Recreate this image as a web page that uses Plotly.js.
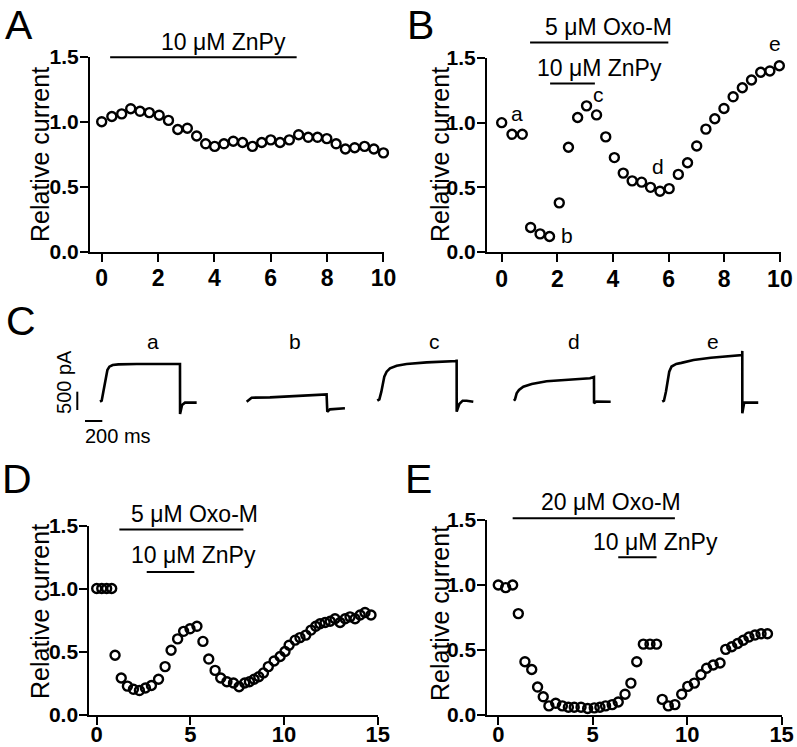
<!DOCTYPE html>
<html><head><meta charset="utf-8">
<script src="https://cdn.plot.ly/plotly-3.0.1.min.js"></script>
<style>html,body{margin:0;padding:0;background:#fff}#chart{width:797px;height:747px}</style>
</head><body><div id="chart"></div>
<script>
// ---------- Panel A : ZnPy alone ----------
const aTime = [0,0.36,0.71,1.03,1.36,1.69,2.04,2.37,2.70,3.04,3.37,3.69,4.01,4.34,4.67,5.0,5.35,5.68,6.0,6.33,6.66,6.99,7.33,7.66,7.99,8.32,8.65,8.98,9.33,9.66,10.0];
const aCurrent = [1.0,1.04,1.06,1.10,1.08,1.07,1.05,1.01,0.94,0.95,0.89,0.83,0.81,0.83,0.85,0.84,0.81,0.84,0.86,0.84,0.86,0.90,0.88,0.88,0.87,0.83,0.79,0.80,0.81,0.79,0.76];
const aBars = [{label:'10 μM ZnPy', start:0.30, end:6.92, level:1.495, textX:4.32, textY:1.615}];

// ---------- Panel B : 5 uM Oxo-M + ZnPy ----------
const bTime = [0,0.37,0.74,1.04,1.38,1.72,2.07,2.40,2.73,3.05,3.41,3.74,4.05,4.37,4.69,5.03,5.35,5.69,6.02,6.35,6.68,7.01,7.34,7.66,7.99,8.32,8.65,8.98,9.31,9.64,9.98];
const bCurrent = [1.00,0.91,0.91,0.19,0.14,0.12,0.38,0.81,1.04,1.13,1.06,0.89,0.73,0.61,0.55,0.54,0.50,0.47,0.49,0.60,0.69,0.82,0.95,1.03,1.11,1.20,1.27,1.33,1.39,1.40,1.44];
const bPointLabels = ['a','b','c','d','e'];
const bPointLabelX = [0.54,2.36,3.47,5.63,9.82];
const bPointLabelY = [1.07,0.13,1.22,0.66,1.61];
const bBars = [{label:'5 μM Oxo-M', start:1.02, end:5.99, level:1.62, textX:3.83, textY:1.736},
               {label:'10 μM ZnPy', start:1.74, end:3.35, level:1.303, textX:3.50, textY:1.425}];

// ---------- Panel C : current traces (ms, pA) ----------
const sweepNames = ['a','b','c','d','e'];
const sweepOffset = [482, 2177, 3680, 5260, 6974];
const sweepTime = [
  [-20,0,19,38,50,66,89,127,193,405,905,906,929,963,1098],
  [-19,0,38,250,636,905,913,944,1117],
  [-12,12,35,50,69,96,135,212,327,559,905,905.5,906,936,975,1021,1098],
  [-12,0,19,46,96,193,366,674,867,913,914,940,1106],
  [-12,8,31,50,69,96,150,210,350,550,750,913,913.5,914,935,960,1098]
];
const sweepCurrent = [
  [0,27,273,500,729,866,956,1002,1018,1029,1029,-336,-91,-27,-27],
  [0,46,109,118,155,200,-273,-209,-181],
  [27,64,273,500,683,819,910,983,1029,1073,1111,1150,-273,-64,27,27,0],
  [27,64,229,319,410,483,557,612,639,674,-44,5,0],
  [0,27,273,592,819,960,1030,1060,1140,1200,1245,1270,1387,-317,-27,-27,-27]
];
const sweepLabelTime = [1075, 2720, 4335, 5942, 7549];
const sweepLabelCurrent = 1630;
const scaleBarCurrent = 500;   // pA
const scaleBarTime = 200;      // ms

// ---------- Panel D : 5 uM Oxo-M + ZnPy ----------
const dTime = [0,0.27,0.53,0.80,0.98,1.31,1.64,1.96,2.28,2.60,2.92,3.30,3.65,3.97,4.32,4.64,4.98,5.35,5.67,5.98,6.32,6.62,6.95,7.30,7.60,7.90,8.15,8.40,8.65,8.90,9.16,9.47,9.79,10.05,10.27,10.59,10.85,11.16,11.44,11.69,11.92,12.19,12.46,12.72,12.99,13.26,13.52,13.79,14.06,14.32,14.64];
const dCurrent = [1.0,1.0,1.0,1.0,0.47,0.29,0.225,0.20,0.19,0.21,0.23,0.28,0.38,0.51,0.60,0.66,0.68,0.70,0.58,0.44,0.35,0.29,0.26,0.25,0.22,0.25,0.26,0.28,0.30,0.33,0.38,0.425,0.46,0.50,0.55,0.59,0.61,0.63,0.67,0.70,0.72,0.73,0.74,0.76,0.73,0.76,0.775,0.76,0.79,0.81,0.79];
const dBars = [{label:'5 μM Oxo-M', start:1.21, end:7.83, level:1.469, textX:5.2, textY:1.593},
               {label:'10 μM ZnPy', start:2.67, end:5.21, level:1.131, textX:5.16, textY:1.263}];

// ---------- Panel E : 20 uM Oxo-M + ZnPy ----------
const eTime = [0,0.39,0.76,1.06,1.41,1.77,2.08,2.38,2.68,3.04,3.39,3.71,4.02,4.38,4.73,5.08,5.38,5.68,6.03,6.35,6.71,7.02,7.33,7.68,8.03,8.38,8.68,9.0,9.35,9.71,10.03,10.38,10.73,11.03,11.38,11.74,12.04,12.36,12.67,12.97,13.27,13.59,13.91,14.25];
const eCurrent = [1.0,0.98,1.0,0.78,0.41,0.35,0.215,0.14,0.07,0.09,0.07,0.06,0.06,0.06,0.05,0.055,0.06,0.07,0.08,0.10,0.16,0.245,0.41,0.545,0.545,0.545,0.12,0.07,0.08,0.16,0.22,0.245,0.31,0.36,0.385,0.40,0.505,0.525,0.55,0.575,0.60,0.615,0.625,0.625];
const eBars = [{label:'20 μM Oxo-M', start:0.76, end:9.35, level:1.513, textX:5.95, textY:1.64},
               {label:'10 μM ZnPy', start:6.35, end:8.38, level:1.213, textX:8.30, textY:1.333}];

// ---------- layout helpers ----------
const W = 797, H = 747;
const FONT = 'Liberation Sans, Arial, Helvetica, sans-serif';
const px = v => v / W;
const py = v => 1 - v / H;
const YMAX = 1.5;

const marker = {symbol:'circle-open', size:9, color:'#000', line:{width:2.4, color:'#000'}};
function scatter(x, y, ax) {
  return {x:x, y:y, type:'scatter', mode:'markers', marker:marker, cliponaxis:false,
          xaxis:'x'+ax, yaxis:'y'+ax, hoverinfo:'skip', showlegend:false};
}
function xAx(domain, range, dtick, size, anchor, standoff) {
  return {domain:domain, range:range, dtick:dtick, tick0:0, anchor:anchor, showline:true, linewidth:2, linecolor:'#000',
          ticks:'outside', ticklen:8, tickwidth:2, tickcolor:'#000', showgrid:false, zeroline:false,
          ticklabelstandoff:standoff,
          tickfont:{family:FONT, size:size, color:'#000', weight:'bold'}, fixedrange:true};
}
function yAx(domain, anchor) {
  return {domain:domain, range:[0, YMAX], dtick:0.5, tick0:0, tickformat:'.1f', anchor:anchor,
          showline:true, linewidth:2, linecolor:'#000', ticks:'outside', ticklen:8, tickwidth:2,
          tickcolor:'#000', showgrid:false, zeroline:false, ticklabelstandoff:-3,
          tickfont:{family:FONT, size:21, color:'#000', weight:'bold'}, fixedrange:true};
}

const traces = [scatter(aTime, aCurrent, ''), scatter(bTime, bCurrent, '2'),
                scatter(dTime, dCurrent, '4'), scatter(eTime, eCurrent, '5')];

for (let i = 0; i < sweepNames.length; i++) {
  traces.push({x: sweepTime[i].map(t => t + sweepOffset[i]), y: sweepCurrent[i], type:'scatter', mode:'lines',
    line:{color:'#000', width:2.6}, xaxis:'x3', yaxis:'y3', hoverinfo:'skip', showlegend:false});
}
// scale bars (vertical 500 pA, horizontal 200 ms)
const sbX = 200, sbY = 273;
traces.push({x:[sbX, sbX], y:[sbY, sbY - scaleBarCurrent], type:'scatter', mode:'lines',
  line:{color:'#000', width:2}, xaxis:'x3', yaxis:'y3', hoverinfo:'skip', showlegend:false});
traces.push({x:[289, 289 + scaleBarTime], y:[-527, -527], type:'scatter', mode:'lines',
  line:{color:'#000', width:2}, xaxis:'x3', yaxis:'y3', hoverinfo:'skip', showlegend:false});

const shapes = [], annotations = [];
function note(o) { annotations.push(Object.assign({showarrow:false, xanchor:'center', yanchor:'middle'}, o)); }
function addBars(bars, ax) {
  bars.forEach(b => {
    shapes.push({type:'line', xref:'x'+ax, yref:'y'+ax+' domain', x0:b.start, x1:b.end,
                 y0:b.level / YMAX, y1:b.level / YMAX, line:{color:'#000', width:2}});
    note({xref:'x'+ax, yref:'y'+ax+' domain', x:b.textX, y:b.textY / YMAX, text:b.label,
          font:{family:FONT, size:23, color:'#000'}});
  });
}
addBars(aBars, ''); addBars(bBars, '2'); addBars(dBars, '4'); addBars(eBars, '5');

bPointLabels.forEach((t, i) => note({xref:'x2', yref:'y2 domain', x:bPointLabelX[i], y:bPointLabelY[i] / YMAX,
  text:t, font:{family:FONT, size:21, color:'#000'}}));
sweepNames.forEach((t, i) => note({xref:'x3', yref:'y3', x:sweepLabelTime[i], y:sweepLabelCurrent,
  text:t, font:{family:FONT, size:21, color:'#000'}}));
note({xref:'x3', yref:'y3', x:46, y:538, text:'500 pA', textangle:-90, font:{family:FONT, size:20, color:'#000'}});
note({xref:'x3', yref:'y3', x:670, y:-936, text:'200 ms', font:{family:FONT, size:20, color:'#000'}});

// panel letters
[['A',19,25],['B',420,25],['C',21,321],['D',17,479],['E',419,479]].forEach(l =>
  note({xref:'paper', yref:'paper', x:px(l[1]), y:py(l[2]), text:l[0], font:{family:FONT, size:41, color:'#000'}}));
// y-axis titles
[[40,155],[440,155],[40,612],[440,614]].forEach(p =>
  note({xref:'paper', yref:'paper', x:px(p[0]), y:py(p[1]), text:'Relative current', textangle:-90,
    font:{family:FONT, size:25, color:'#000'}}));

const layout = {
  width:W, height:H, margin:{l:0, r:0, t:0, b:0}, paper_bgcolor:'#fff', plot_bgcolor:'rgba(0,0,0,0)',
  showlegend:false,
  xaxis:  xAx([px(90), px(384)], [-0.415, 10.02], 2, 23, 'y', -3),
  yaxis:  yAx([py(251.7), py(56.7)], 'x'),
  xaxis2: xAx([px(487), px(781)], [-0.528, 10.04], 2, 23, 'y2', -3),
  yaxis2: yAx([py(252), py(58)], 'x2'),
  xaxis3: {domain:[px(60), px(770)], range:[0, 8208], visible:false, fixedrange:true, anchor:'y3'},
  yaxis3: {domain:[py(450), py(330)], range:[-1319, 1957], visible:false, fixedrange:true, anchor:'x3'},
  xaxis4: xAx([px(89.3), px(378.3)], [-0.395, 15.03], 5, 22, 'y4', -9),
  yaxis4: yAx([py(714.5), py(525.5)], 'x4'),
  xaxis5: xAx([px(487.3), px(782)], [-0.582, 15.02], 5, 22, 'y5', -9),
  yaxis5: yAx([py(715), py(520)], 'x5'),
  shapes:shapes, annotations:annotations
};

Plotly.newPlot('chart', traces, layout, {staticPlot:true, displayModeBar:false});
</script>
</body></html>
